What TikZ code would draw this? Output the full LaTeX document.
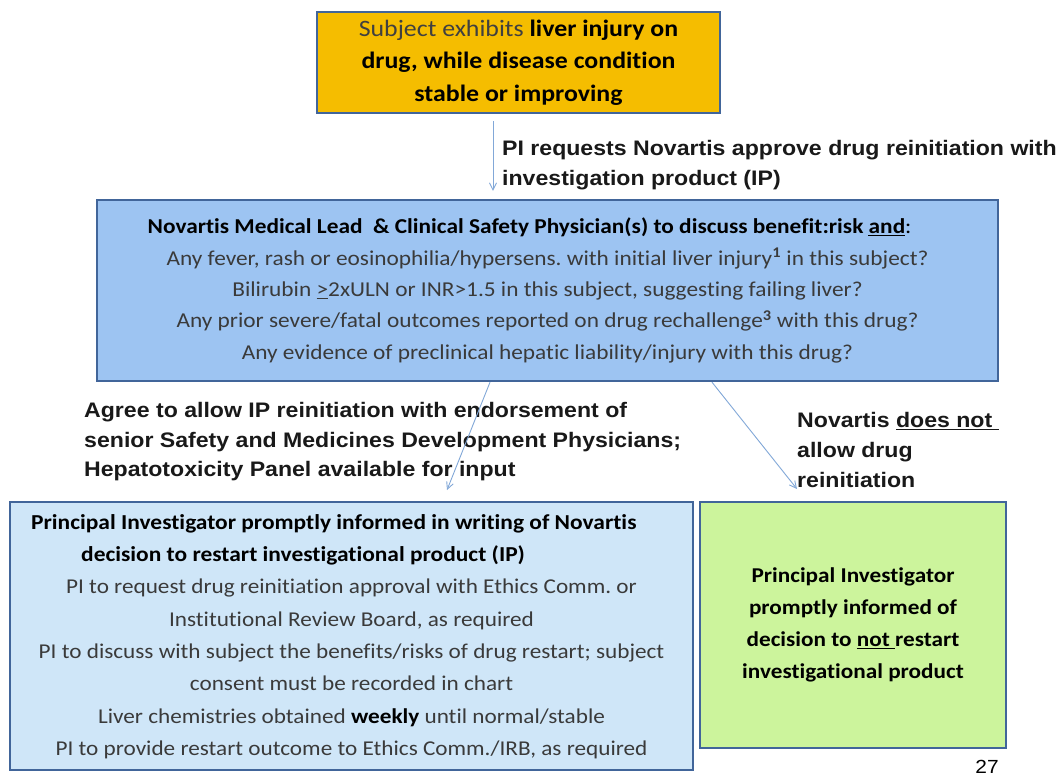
\documentclass[tikz,border=0pt]{standalone}
\usepackage{fontspec}
\setmainfont{Carlito}[FakeStretch=1.1, Ligatures=NoCommon]
\newfontfamily\arialfont{Liberation Sans}[FakeStretch=1.1]
\usetikzlibrary{arrows.meta}
\definecolor{boxedge}{HTML}{41659A}
\definecolor{gold}{HTML}{F5BD00}
\definecolor{midblue}{HTML}{9DC4F2}
\definecolor{paleblue}{HTML}{CFE6F8}
\definecolor{palegreen}{HTML}{CCF49C}
\definecolor{arrowblue}{HTML}{82A8D8}
\definecolor{bodygray}{HTML}{3A3A3A}
\tikzset{
  flowbox/.style={draw=boxedge, line width=2.4pt, inner sep=0pt, align=center},
  flowarrow/.style={draw=arrowblue, line width=0.9pt, -{Straight Barb[length=7pt,width=7pt]}},
  steplabel/.style={font=\arialfont\bfseries\fontsize{21}{30}\selectfont, align=left, anchor=west, inner sep=0pt, text=black!90},
}
\newcommand{\graytxt}[1]{\textcolor{bodygray}{#1}}
\begin{document}
\begin{tikzpicture}[x=1pt,y=-1pt]
\useasboundingbox[fill=white] (0,0) rectangle (1063,778);

% top box
\node[flowbox, fill=gold, minimum width=403pt, minimum height=101pt,
      font=\fontsize{23.5}{32.5}\selectfont] (top) at (518.5,62.5)
  {\textcolor{black!75}{Subject exhibits} \textbf{liver injury on}\\
   \textbf{drug, while disease condition}\\
   \textbf{stable or improving}};

% discussion box
\node[flowbox, fill=midblue, minimum width=901pt, minimum height=181pt,
      font=\fontsize{21.2}{31.3}\selectfont] (mid) at (547.5,290.5)
  {\textbf{Novartis Medical Lead\ \ \& Clinical Safety Physician(s) to discuss\ benefit:risk \underline{and}}:\hspace*{36pt}\\
   \graytxt{Any fever, rash or eosinophilia/hypersens.\ with initial liver injury\textsuperscript{\bfseries 1} in this subject?}\\
   \graytxt{Bilirubin \underline{>}2xULN or INR>1.5\ in this subject, suggesting failing liver?}\\
   \graytxt{Any prior severe/fatal outcomes reported on drug rechallenge\textsuperscript{\bfseries 3} with this drug?}\\
   \graytxt{Any evidence of preclinical hepatic liability/injury with this drug?}};

% restart box
\node[flowbox, fill=paleblue, minimum width=683pt, minimum height=268pt] (restart) at (351.5,636) {};
\node[font=\bfseries\fontsize{21.3}{32}\selectfont, anchor=west, inner sep=0pt] (r1) at (31,524)
  {Principal Investigator promptly informed in writing of Novartis};
\node[font=\bfseries\fontsize{21.3}{32}\selectfont, anchor=west, inner sep=0pt] (r2) at (81,555)
  {decision\ to restart investigational product (IP)};
\node[font=\fontsize{21.1}{32.4}\selectfont, align=center, text=bodygray, inner sep=0pt] (r3) at (351.5,669)
  {PI to request drug reinitiation approval with Ethics Comm.\ or\\
   Institutional Review Board, as required\\
   PI to discuss with subject the benefits/risks of drug restart; subject\\
   consent must be recorded in chart\\
   Liver chemistries obtained \textcolor{black}{\textbf{weekly}} until normal/stable\\
   PI to provide restart outcome to Ethics Comm./IRB, as required};

% no-restart box
\node[flowbox, fill=palegreen, minimum width=306pt, minimum height=246pt,
      font=\bfseries\fontsize{21.1}{32}\selectfont] (norestart) at (853,625)
  {Principal Investigator\\
   promptly informed of\\
   decision to \underline{not }restart\\
   investigational product};

% arrow labels
\node[steplabel] (lbl1) at (502,165)
  {PI requests Novartis approve drug reinitiation with\\investigation product (IP)};
\node[steplabel, font=\arialfont\bfseries\fontsize{21}{29.5}\selectfont] (lbl2) at (84,442)
  {Agree to allow IP reinitiation with endorsement of\\
   senior Safety and Medicines Development Physicians;\\
   Hepatotoxicity Panel available for input};
\node[steplabel] (lbl3) at (797,450)
  {Novartis \underline{does not\ }\\allow drug\\reinitiation};

\node[font=\arialfont\fontsize{19}{20}\selectfont, inner sep=0pt] (pagenum) at (987,767) {27};

% connectors
\coordinate (a1) at (493,0);
\coordinate (b1) at (490,0);
\coordinate (c1) at (712,0);
\coordinate (t2) at (447,490);
\coordinate (t3) at (797,489);
\draw[flowarrow, shorten <=7pt, shorten >=8pt] (top.south -| a1) -- (mid.north -| a1);
\draw[flowarrow] (mid.south -| b1) -- (t2);
\draw[flowarrow] (mid.south -| c1) -- (t3);
\end{tikzpicture}
\end{document}
